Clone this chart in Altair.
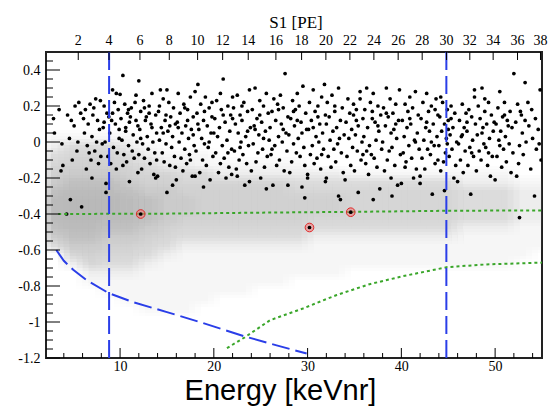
import altair as alt
import pandas as pd

# ---------------- axes / ticks ----------------
X_DOMAIN = [2.1, 55.0]
Y_DOMAIN = [-1.2, 0.5]
energy_major = [10, 20, 30, 40, 50]
energy_minor = [4, 6, 8, 12, 14, 16, 18, 22, 24, 26, 28, 32, 34, 36, 38, 42, 44, 46, 48, 52, 54]
y_major = [-1.2, -1.0, -0.8, -0.6, -0.4, -0.2, 0.0, 0.2, 0.4]
y_minor = [-1.15, -1.1, -1.05, -0.95, -0.9, -0.85, -0.75, -0.7, -0.65, -0.55, -0.5, -0.45,
           -0.35, -0.3, -0.25, -0.15, -0.1, -0.05, 0.05, 0.1, 0.15, 0.25, 0.3, 0.35, 0.45]
s1_labels = [2, 4, 6, 8, 10, 12, 14, 16, 18, 20, 22, 24, 26, 28, 30, 32, 34, 36, 38]
s1_energy = [5.54, 8.82, 12.12, 15.25, 18.27, 20.94, 23.67, 26.62, 29.36, 31.95,
             34.51, 37.07, 39.66, 42.22, 44.82, 47.30, 49.79, 52.39, 54.84]
x_title = "Energy [keVnr]"
top_title = "S1 [PE]"

# ---------------- gray population (density read per 2 keV x 0.05 cell, 0-9) ----------------
gray_e_left = [2, 4, 6, 8, 10, 12, 14, 16, 18, 20, 22, 24, 26, 28, 30, 32, 34, 36, 38, 40,
               42, 44, 46, 48, 50, 52, 54]
gray_y_top = [0.05, 0.0, -0.05, -0.10, -0.15, -0.20, -0.25, -0.30, -0.35, -0.40, -0.45,
              -0.50, -0.55, -0.60, -0.65, -0.70, -0.75, -0.80, -0.85, -0.90]
gray_density = [
    "111110000000000000000000000",
    "233321000000000000000000000",
    "344432111000000000000000000",
    "455543221111110000000000000",
    "566654433222222211111111100",
    "677765544444433333333322211",
    "788876655555544444444433322",
    "899987665555555544444433322",
    "899987665555555544444433322",
    "899887655555554444444433322",
    "788776544444443333333322211",
    "677665433333332222222211111",
    "366554322222221111111111111",
    "045443211111111111111111110",
    "024332111111111111111111100",
    "002221111111111100000000000",
    "001111111111100000000000000",
    "000111111110000000000000000",
    "000011111000000000000000000",
    "000001110000000000000000000",
]

# ---------------- black population (energy keV, y) ----------------
black_02_10 = [
    (3.5, 0.18), (3.0, 0.05), (3.8, -0.01), (3.9, -0.13), (3.7, -0.16), (2.9, 0.13),
    (4.3, -0.40), (4.7, -0.32), (5.2, 0.20), (5.6, 0.22), (4.8, 0.12), (5.9, -0.36), (4.6, 0.02),
    (5.4, -0.05), (5.1, 0.09), (4.4, 0.15), (5.8, 0.16), (5.5, 0.00), (4.9, -0.10),
    (6.8, 0.21), (7.4, 0.24), (7.9, 0.23), (6.3, 0.18), (7.1, 0.15), (6.6, 0.10), (7.6, 0.12),
    (6.2, 0.05), (7.0, 0.03), (7.8, 0.07), (6.5, -0.02), (7.3, -0.05), (6.9, -0.10), (7.7, -0.12),
    (6.4, -0.15), (7.5, 0.00), (6.1, 0.13), (7.2, 0.19), (7.95, -0.08), (6.7, -0.06), (7.0, -0.20),
    (8.3, 0.20), (9.2, 0.29), (9.6, 0.27), (8.6, 0.16), (9.1, 0.12), (9.8, 0.18), (8.2, 0.08),
    (8.9, 0.05), (9.5, 0.10), (8.4, 0.00), (9.3, -0.03), (9.9, 0.02), (8.7, -0.08), (9.0, -0.12),
    (8.5, -0.23), (8.5, -0.28), (9.7, -0.06), (8.1, -0.01), (9.4, 0.22), (8.8, 0.14), (9.6, -0.15),
    (8.3, 0.11), (9.9, 0.07), (9.2, 0.16),
]
black_10_20 = [
    (10.3, 0.37), (10.0, 0.265), (11.7, 0.26), (10.5, 0.21), (11.2, 0.19), (10.8, 0.16), (11.6, 0.22),
    (10.1, 0.13), (11.0, 0.11), (11.9, 0.09), (10.6, 0.06), (11.4, 0.04), (10.2, 0.01), (11.8, 0.00),
    (10.9, -0.02), (11.3, -0.05), (10.4, -0.07), (11.1, 0.14), (10.7, -0.11), (11.5, -0.09),
    (10.3, -0.13), (11.9, -0.17), (11.0, -0.22), (10.6, 0.08), (11.7, 0.12), (10.9, 0.18),
    (12.0, 0.34), (13.4, 0.27), (12.5, 0.23), (13.1, 0.20), (12.2, 0.17), (13.8, 0.15), (12.7, 0.12),
    (13.3, 0.10), (12.1, 0.07), (13.9, 0.05), (12.9, 0.03), (13.5, 0.00), (12.4, -0.01), (13.0, -0.04),
    (13.7, -0.06), (12.6, -0.09), (13.2, -0.12), (12.3, -0.15), (13.6, -0.18), (12.8, 0.14),
    (13.4, 0.08), (12.2, 0.02), (13.9, -0.10), (12.0, -0.07), (13.1, 0.16), (12.6, 0.19), (13.8, -0.20),
    (14.3, 0.29), (15.0, 0.29), (15.2, 0.22), (14.6, 0.24), (15.7, 0.19), (14.1, 0.17), (15.4, 0.14),
    (14.8, 0.12), (15.9, 0.10), (14.4, 0.08), (15.1, 0.06), (15.6, 0.03), (14.2, 0.01), (14.9, -0.01),
    (15.5, -0.03), (14.5, -0.06), (15.8, -0.08), (14.7, -0.11), (15.3, -0.13), (14.0, -0.19),
    (15.6, -0.24), (14.9, 0.15), (15.3, 0.09), (14.2, 0.20), (15.9, -0.14), (14.6, 0.05), (15.0, -0.28),
    (16.2, 0.27), (17.5, 0.25), (16.8, 0.21), (17.2, 0.18), (16.4, 0.16), (17.8, 0.14), (16.1, 0.11),
    (17.0, 0.09), (17.6, 0.07), (16.6, 0.05), (17.3, 0.02), (16.3, 0.00), (17.9, -0.02), (16.9, -0.04),
    (17.4, -0.07), (16.5, -0.09), (17.1, -0.12), (16.7, -0.16), (17.7, -0.19), (16.0, -0.21),
    (17.2, 0.12), (16.9, 0.19), (17.5, -0.10), (16.2, 0.08), (17.8, 0.04),
    (18.3, 0.32), (18.0, 0.28), (19.1, 0.25), (18.6, 0.21), (19.5, 0.19), (18.2, 0.16), (19.8, 0.14),
    (18.9, 0.12), (19.3, 0.09), (18.4, 0.07), (19.7, 0.05), (18.7, 0.02), (19.0, -0.01), (19.4, -0.03),
    (18.1, -0.05), (19.9, -0.08), (18.8, -0.10), (19.2, -0.13), (18.5, -0.17), (19.6, -0.21),
    (18.0, -0.19), (19.0, 0.17), (18.3, 0.10), (19.5, 0.00), (18.9, -0.25), (19.8, 0.22),
]
black_20_30 = [
    (21.0, 0.35), (22.0, 0.25), (20.3, 0.23), (21.5, 0.20), (20.8, 0.18), (21.8, 0.15), (20.1, 0.13),
    (21.2, 0.11), (20.6, 0.08), (21.7, 0.06), (20.4, 0.03), (21.4, 0.01), (20.9, -0.02), (21.9, -0.04),
    (20.2, -0.06), (21.1, -0.09), (20.7, -0.12), (21.6, -0.14), (20.5, -0.17), (21.3, -0.20),
    (21.9, -0.18), (20.0, 0.05), (21.0, 0.15), (20.7, 0.27), (21.5, -0.06),
    (23.8, 0.29), (22.5, 0.26), (23.2, 0.22), (22.1, 0.19), (23.6, 0.17), (22.8, 0.15), (23.0, 0.12),
    (22.3, 0.10), (23.9, 0.08), (22.6, 0.05), (23.4, 0.03), (22.9, 0.00), (23.7, -0.02), (22.2, -0.05),
    (23.1, -0.07), (22.7, -0.10), (23.5, -0.12), (22.4, -0.15), (23.8, -0.22), (23.3, -0.24),
    (22.0, 0.13), (23.6, 0.06), (22.8, -0.03), (23.0, 0.20), (22.5, -0.19),
    (24.4, 0.30), (25.6, 0.27), (24.9, 0.23), (25.3, 0.20), (24.1, 0.18), (25.8, 0.16), (24.6, 0.13),
    (25.1, 0.11), (24.3, 0.09), (25.5, 0.06), (24.8, 0.04), (25.9, 0.01), (24.2, -0.01), (25.2, -0.04),
    (24.7, -0.06), (25.7, -0.08), (24.5, -0.11), (25.4, -0.14), (24.0, -0.16), (25.0, -0.20),
    (25.6, -0.26), (24.9, 0.15), (25.3, 0.02), (24.4, 0.07),
    (26.4, 0.24), (27.6, 0.38), (27.1, 0.26), (26.8, 0.21), (27.4, 0.19), (26.2, 0.17), (27.9, 0.14),
    (26.6, 0.12), (27.2, 0.10), (26.0, 0.08), (27.7, 0.05), (26.9, 0.03), (27.3, 0.00), (26.5, -0.02),
    (27.8, -0.05), (26.1, -0.07), (27.0, -0.10), (26.7, -0.13), (27.5, -0.16), (26.3, -0.24),
    (27.9, -0.24), (26.9, 0.18), (27.4, 0.07), (26.2, -0.04),
    (28.9, 0.27), (29.5, 0.31), (28.4, 0.23), (29.1, 0.20), (28.7, 0.18), (29.8, 0.16), (28.2, 0.13),
    (29.3, 0.11), (28.6, 0.09), (29.9, 0.07), (28.0, 0.04), (29.0, 0.02), (28.5, -0.01), (29.6, -0.03),
    (28.8, -0.06), (29.2, -0.08), (28.3, -0.11), (29.7, -0.13), (28.1, -0.17), (29.4, -0.25),
    (29.7, -0.31), (28.9, 0.12), (29.4, 0.05), (28.5, 0.17), (30.0, -0.20),
]
black_30_40 = [
    (30.6, 0.29), (31.8, 0.32), (31.5, 0.25), (30.2, 0.22), (31.1, 0.20), (30.8, 0.17), (31.9, 0.15),
    (30.4, 0.12), (31.3, 0.10), (30.1, 0.07), (31.6, 0.05), (30.9, 0.03), (31.2, 0.00), (30.5, -0.02),
    (31.7, -0.04), (30.3, -0.07), (31.0, -0.09), (30.7, -0.12), (31.4, -0.15), (30.0, -0.18),
    (31.9, -0.22), (31.1, 0.14), (30.6, 0.08), (31.5, -0.07),
    (32.6, 0.26), (33.3, 0.30), (32.1, 0.22), (33.7, 0.19), (32.9, 0.17), (32.3, 0.14), (33.5, 0.12),
    (32.0, 0.10), (33.1, 0.08), (32.7, 0.06), (33.9, 0.04), (32.4, 0.01), (33.2, -0.01), (32.8, -0.04),
    (33.6, -0.06), (32.2, -0.08), (33.0, -0.11), (32.5, -0.14), (33.8, -0.17), (33.3, -0.30),
    (33.5, -0.32), (32.9, 0.20), (33.4, 0.02), (32.0, -0.20),
    (35.6, 0.28), (35.6, 0.24), (34.3, 0.24), (34.9, 0.21), (35.2, 0.18), (34.5, 0.16), (35.9, 0.13),
    (34.1, 0.11), (35.4, 0.09), (34.7, 0.07), (35.1, 0.04), (34.4, 0.02), (35.8, 0.00), (34.8, -0.03),
    (35.3, -0.05), (34.2, -0.08), (35.7, -0.10), (34.6, -0.13), (35.0, -0.16), (35.4, -0.28),
    (34.0, -0.21), (35.2, 0.12), (34.9, 0.15), (35.9, -0.07),
    (37.0, 0.27), (36.3, 0.30), (36.7, 0.22), (37.5, 0.20), (36.1, 0.18), (37.8, 0.15), (36.9, 0.13),
    (37.2, 0.11), (36.4, 0.08), (37.6, 0.06), (36.0, 0.03), (37.3, 0.01), (36.6, -0.02), (37.9, -0.04),
    (36.8, -0.07), (37.1, -0.09), (36.2, -0.12), (37.4, -0.14), (36.5, -0.18), (37.7, -0.26),
    (36.9, 0.17), (37.5, 0.09), (36.3, -0.05), (37.0, -0.32),
    (38.4, 0.30), (39.8, 0.29), (38.8, 0.24), (39.4, 0.21), (38.1, 0.19), (39.1, 0.16), (38.6, 0.14),
    (39.7, 0.12), (38.3, 0.09), (39.2, 0.07), (38.9, 0.05), (39.5, 0.02), (38.0, 0.00), (39.0, -0.03),
    (38.7, -0.05), (39.9, -0.07), (38.5, -0.10), (39.3, -0.13), (38.2, -0.16), (39.6, -0.24),
    (38.9, -0.20), (39.4, 0.10), (38.4, 0.16), (39.0, -0.30),
]
black_40_55 = [
    (40.9, 0.25), (41.5, 0.28), (40.4, 0.21), (41.2, 0.19), (40.7, 0.17), (41.8, 0.15), (40.1, 0.12),
    (41.0, 0.10), (40.6, 0.08), (41.7, 0.05), (40.3, 0.03), (41.4, 0.01), (40.8, -0.02), (41.9, -0.04),
    (40.2, -0.06), (41.1, -0.09), (40.5, -0.11), (41.6, -0.15), (40.0, -0.23), (41.3, -0.20),
    (40.9, 0.13), (41.5, 0.00), (40.4, -0.14), (42.0, -0.23),
    (42.7, 0.27), (43.7, 0.24), (42.3, 0.22), (43.2, 0.20), (42.9, 0.17), (43.9, 0.15), (42.1, 0.13),
    (43.4, 0.10), (42.6, 0.08), (43.0, 0.06), (43.8, 0.03), (42.4, 0.01), (43.5, -0.02), (42.8, -0.04),
    (43.1, -0.07), (42.2, -0.09), (43.6, -0.12), (42.5, -0.15), (43.3, -0.29), (42.0, -0.19),
    (43.9, -0.10), (42.7, 0.11), (43.2, 0.00), (43.6, 0.18),
    (44.4, 0.22), (45.3, 0.20), (44.9, 0.18), (45.7, 0.16), (44.1, 0.14), (45.0, 0.12), (44.6, 0.10),
    (45.5, 0.08), (44.3, 0.06), (45.2, 0.04), (44.8, 0.02), (45.9, 0.00), (44.0, -0.02), (45.4, -0.04),
    (44.7, -0.06), (45.1, -0.08), (44.5, -0.11), (45.8, -0.13), (44.2, -0.16), (45.6, -0.20),
    (44.6, -0.27), (45.0, 0.07), (44.9, -0.01), (45.3, 0.13), (44.2, 0.25),
    (47.8, 0.25), (47.8, 0.29), (46.5, 0.21), (47.2, 0.18), (46.9, 0.16), (47.5, 0.14), (46.2, 0.12),
    (47.9, 0.10), (46.7, 0.08), (47.0, 0.06), (46.4, 0.03), (47.6, 0.01), (46.1, -0.01), (47.3, -0.03),
    (46.8, -0.05), (47.7, -0.08), (46.3, -0.10), (47.1, -0.13), (46.6, -0.17), (47.4, -0.29),
    (46.0, -0.22), (47.0, 0.11), (46.5, 0.04), (47.5, -0.06),
    (48.6, 0.30), (48.2, 0.20), (49.3, 0.22), (48.9, 0.17), (49.6, 0.15), (48.4, 0.13), (49.1, 0.10),
    (48.7, 0.08), (49.8, 0.06), (48.1, 0.04), (49.4, 0.02), (48.8, -0.01), (49.0, -0.03), (48.3, -0.05),
    (49.7, -0.08), (48.5, -0.10), (49.2, -0.13), (48.0, -0.16), (49.5, -0.19), (49.9, 0.11),
    (48.6, 0.05), (49.3, -0.06), (48.9, 0.24),
    (50.5, 0.28), (52.0, 0.38), (51.0, 0.22), (50.3, 0.19), (51.6, 0.17), (50.8, 0.14), (51.3, 0.12),
    (50.1, 0.10), (51.8, 0.08), (50.6, 0.06), (51.1, 0.03), (50.4, 0.01), (51.5, -0.01), (50.9, -0.04),
    (51.9, -0.06), (50.2, -0.08), (51.2, -0.11), (50.7, -0.14), (51.7, -0.17), (50.0, -0.21),
    (51.4, 0.09), (50.5, -0.02), (51.0, 0.15),
    (53.2, 0.33), (54.8, 0.29), (53.5, 0.22), (52.4, 0.21), (53.9, 0.18), (52.8, 0.15), (54.3, 0.13),
    (52.2, 0.11), (53.6, 0.09), (54.6, 0.07), (52.9, 0.05), (54.0, 0.02), (53.3, 0.00), (52.6, -0.02),
    (54.4, -0.04), (53.0, -0.07), (54.9, -0.10), (52.5, -0.12), (53.8, -0.15), (52.3, -0.19),
    (54.2, -0.30), (53.2, 0.12), (54.7, -0.01), (52.7, 0.17), (52.6, -0.42),
]

# ---------------- highlighted events ----------------
red_e = [12.2, 30.2, 34.6]
red_y = [-0.40, -0.475, -0.39]

# ---------------- lines ----------------
cut_energy = [8.83, 44.8]                      # S1 = 4 and 30 PE
green_flat_e = [3.4, 15.0, 26.0, 35.0, 45.0, 55.0]
green_flat_y = [-0.400, -0.398, -0.392, -0.388, -0.382, -0.380]
green_curve_e = [21.4, 23.3, 26.0, 29.5, 33.1, 36.6, 40.2, 44.9, 49.1, 55.0]
green_curve_y = [-1.145, -1.085, -0.99, -0.925, -0.85, -0.79, -0.745, -0.695, -0.68, -0.67]
blue_curve_e = [3.2, 4.0, 5.0, 6.5, 8.8, 11.4, 15.0, 18.5, 23.3, 26.7, 29.9]
blue_curve_y = [-0.60, -0.66, -0.71, -0.77, -0.84, -0.89, -0.945, -1.0, -1.08, -1.13, -1.175]

# ---------------- build ----------------
W, H = 496, 306
xs = alt.Scale(domain=X_DOMAIN, nice=False, zero=False)
ys = alt.Scale(domain=Y_DOMAIN, nice=False, zero=False)
SERIF = "Liberation Serif"
BLUE = "#2a3ee8"
GREEN = "#3aa62a"

x_axis = alt.Axis(values=energy_major, ticks=False, tickSize=0, domain=False, grid=False,
                  labelFont=SERIF, labelFontSize=14, labelColor="black", labelPadding=1,
                  title=x_title, titleFont="Liberation Sans", titleFontSize=29,
                  titleFontWeight="normal", titleColor="black", titleX=234, titleY=41,
                  titleAlign="center", titleBaseline="alphabetic")
y_axis = alt.Axis(values=y_major, ticks=False, tickSize=0, domain=False, grid=False,
                  labelFont=SERIF, labelFontSize=14, labelColor="black", labelPadding=6,
                  labelExpr="replace(format(datum.value, '~g'), '\u2212', '-')", title="")


def X(field):
    return alt.X(field, scale=xs, axis=x_axis)


def Y(field):
    return alt.Y(field, scale=ys, axis=y_axis)


gray_rows = []
for yt, row in zip(gray_y_top, gray_density):
    for el, ch in zip(gray_e_left, row):
        d = int(ch)
        if d > 0:
            gray_rows.append({"e0": el, "e1": el + 2, "y0": yt - 0.05, "y1": yt, "d": d})
gray_df = pd.DataFrame(gray_rows)

# the density cells are drawn 9 times with small pixel shifts to soften the cell edges
gray_layers = []
for dx in (-6, 0, 6):
    for dy in (-3, 0, 3):
        gray_layers.append(
            alt.Chart(gray_df).mark_rect(clip=True, color="#8c8c8c", xOffset=dx, yOffset=dy,
                                         x2Offset=dx, y2Offset=dy).encode(
                x=X("e0:Q"), x2="e1:Q", y=Y("y0:Q"), y2="y1:Q",
                opacity=alt.Opacity("d:Q", scale=alt.Scale(domain=[0, 9], range=[0, 0.097]),
                                    legend=None),
            )
        )

black_df = pd.DataFrame(black_02_10 + black_10_20 + black_20_30 + black_30_40 + black_40_55,
                        columns=["e", "y"])
red_df = pd.DataFrame({"e": red_e, "y": red_y})

black = alt.Chart(black_df).mark_circle(size=14, color="black", opacity=1, clip=True).encode(
    x=X("e:Q"), y=Y("y:Q"))


def line(es, yv, color, dash):
    df = pd.DataFrame({"e": es, "y": yv})
    return alt.Chart(df).mark_line(color=color, strokeWidth=2, strokeDash=dash, clip=True).encode(
        x=X("e:Q"), y=Y("y:Q"))


green_flat = line(green_flat_e, green_flat_y, GREEN, [3, 3])
green_curve = line(green_curve_e, green_curve_y, GREEN, [3, 3])
blue_curve = line(blue_curve_e, blue_curve_y, BLUE, [18, 6])

blue_cuts = alt.Chart(pd.DataFrame({"e": cut_energy})).mark_rule(
    color=BLUE, strokeWidth=2, strokeDash=[18, 6]).encode(x=X("e:Q"))

red_ring = alt.Chart(red_df).mark_circle(size=75, fill="#f07a7a", fillOpacity=0.55,
                                         stroke="#e02828", strokeWidth=1).encode(
    x=X("e:Q"), y=Y("y:Q"))
red_dot = alt.Chart(red_df).mark_circle(size=14, color="black", opacity=1).encode(
    x=X("e:Q"), y=Y("y:Q"))


def yticks(vals, length):
    return alt.Chart(pd.DataFrame({"v": vals})).mark_rule(color="black", strokeWidth=1).encode(
        y=Y("v:Q"), x=alt.value(0), x2=alt.value(length))


def xticks(vals, top, length):
    y0 = 0 if top else H
    y1 = length if top else H - length
    return alt.Chart(pd.DataFrame({"v": vals})).mark_rule(color="black", strokeWidth=1).encode(
        x=X("v:Q"), y=alt.value(y0), y2=alt.value(y1))


top_df = pd.DataFrame({"e": s1_energy, "lab": [str(v) for v in s1_labels]})
top_labels = alt.Chart(top_df).mark_text(font=SERIF, fontSize=14, color="black",
                                         align="center", baseline="alphabetic").encode(
    x=X("e:Q"), y=alt.value(-7), text="lab:N")
top_name = alt.Chart(pd.DataFrame({"t": [top_title]})).mark_text(
    font=SERIF, fontSize=17, color="black", align="center", baseline="alphabetic").encode(
    x=alt.value(250), y=alt.value(-24), text="t:N")

chart = alt.layer(
    *gray_layers, black, green_flat, green_curve, blue_curve, blue_cuts, red_ring, red_dot,
    yticks(y_major, 14), yticks(y_minor, 7),
    xticks(energy_major, False, 10), xticks(energy_minor, False, 5),
    xticks(s1_energy, True, 8), top_labels, top_name,
).properties(
    width=W, height=H,
    padding={"left": 46, "top": 52, "right": 6, "bottom": 48},
    autosize=alt.AutoSizeParams(type="none"),
    background="white",
).configure_view(stroke="#222222", strokeWidth=2)

chart.save("out.html", embed_options={"renderer": "svg", "actions": False})
